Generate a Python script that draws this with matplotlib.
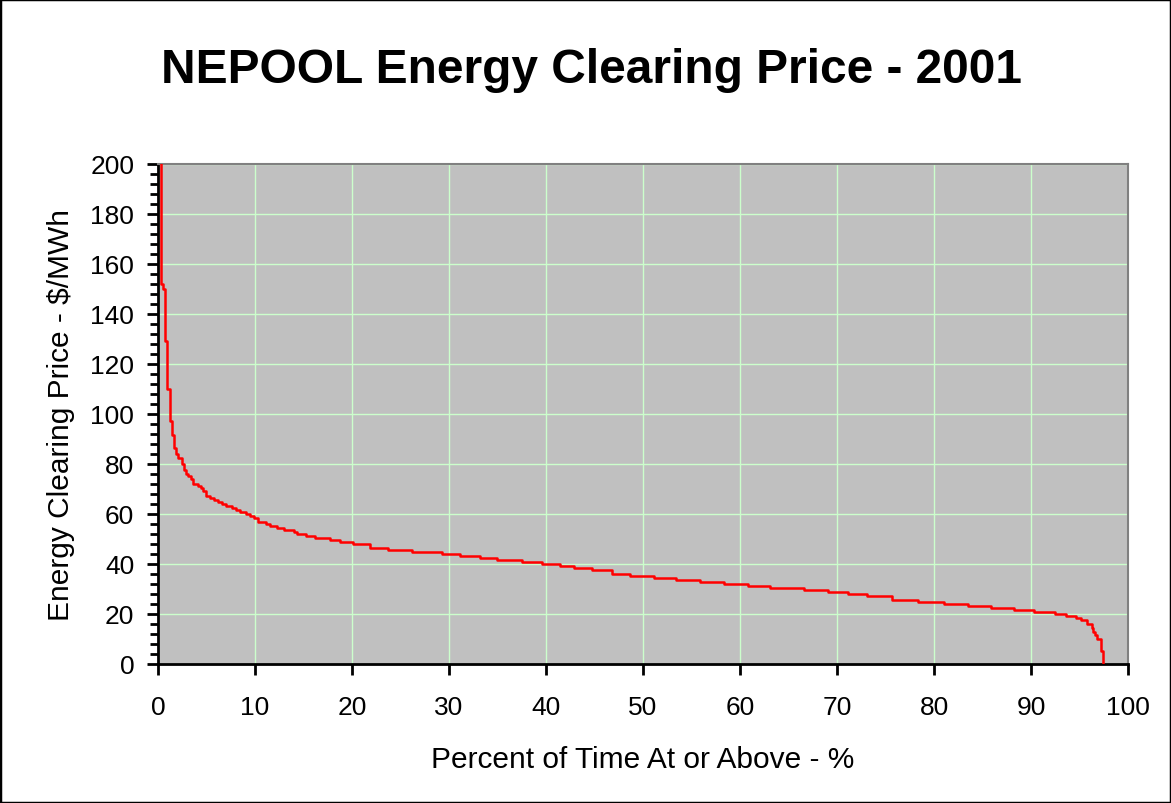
import matplotlib.pyplot as plt
from matplotlib.patches import Rectangle
from matplotlib.ticker import MultipleLocator

# price duration curve
# pct = percent of time where each price level starts
pct = [0.0, 0.30, 0.55, 0.77, 0.98, 1.20, 1.41, 1.65, 1.86, 2.10,
       2.50, 2.68, 2.89, 3.10, 3.37, 3.64, 4.16, 4.40, 4.67, 4.91,
       5.36, 5.77, 6.22, 6.56, 7.00, 7.66, 8.04, 8.45, 9.07, 9.48,
       9.90, 10.30, 11.13, 11.55, 12.30, 12.95, 14.00, 14.36, 15.25, 16.20,
       17.70, 18.76, 20.10, 21.86, 23.70, 26.20, 29.30, 31.10, 33.20, 35.00,
       37.50, 39.60, 41.40, 42.90, 44.74, 46.80, 48.66, 51.10, 53.40, 55.90,
       58.35, 60.86, 63.10, 66.60, 69.07, 71.10, 73.10, 75.70, 78.30, 81.00,
       83.50, 85.90, 88.20, 90.30, 92.50, 93.60, 94.60, 95.20, 95.80, 96.25,
       96.40, 96.60, 96.80, 97.25, 97.45]
price = [400, 152, 150, 129, 110, 97.3, 91.7, 86.4, 84.0, 82.4,
         80.0, 77.7, 76.0, 75.0, 74.0, 72.0, 71.0, 70.3, 69.0, 67.3,
         66.5, 65.7, 64.9, 64.1, 63.3, 62.5, 61.7, 60.9, 60.1, 59.3,
         58.5, 56.9, 56.1, 55.3, 54.5, 53.7, 52.9, 52.1, 51.3, 50.5,
         49.7, 48.9, 48.1, 46.5, 45.7, 44.9, 44.1, 43.3, 42.5, 41.7,
         40.9, 40.1, 39.3, 38.5, 37.7, 36.1, 35.3, 34.5, 33.7, 32.9,
         32.1, 31.3, 30.5, 29.7, 28.9, 28.1, 27.3, 25.7, 24.9, 24.1,
         23.3, 22.5, 21.7, 20.9, 20.1, 19.3, 18.5, 17.7, 16.1, 14.5,
         12.9, 11.6, 9.9, 5.1, 0.0]

plt.rcParams['font.family'] = ['Liberation Sans', 'DejaVu Sans']

fig = plt.figure(figsize=(11.71, 8.04), dpi=100)
ax = fig.add_axes([0.1349, 0.1729, 0.8284, 0.6219])

ax.step(pct, price, where='post', color='#ff0000', linewidth=1.8, zorder=3)

ax.set_xlim(0, 100)
ax.set_ylim(0, 200)
ax.set_facecolor('#c0c0c0')
ax.xaxis.set_major_locator(MultipleLocator(10))
ax.yaxis.set_major_locator(MultipleLocator(20))
ax.yaxis.set_minor_locator(MultipleLocator(4))
ax.grid(True, which='major', color='#ccffcc', linewidth=1.0)
ax.set_axisbelow(True)

ax.tick_params(axis='x', which='major', direction='out', length=8, width=2,
               labelsize=19, pad=14)
ax.tick_params(axis='y', which='major', direction='out', length=8, width=2,
               labelsize=19, pad=9)
ax.tick_params(axis='y', which='minor', direction='out', length=6, width=2)

for s in ['left', 'bottom']:
    ax.spines[s].set_color('black')
    ax.spines[s].set_linewidth(2)
for s in ['top', 'right']:
    ax.spines[s].set_color('#808080')
    ax.spines[s].set_linewidth(1.5)

ax.set_xlabel("Percent of Time At or Above - %", fontsize=21.5, labelpad=19)
ax.set_ylabel("Energy Clearing Price - $/MWh", fontsize=21.5)
ax.yaxis.set_label_coords(-0.086, 0.5)

fig.text(0.505, 0.912, "NEPOOL Energy Clearing Price - 2001", ha='center', va='center',
         fontsize=34.5, fontweight='bold')

# outer border of the chart
fig.add_artist(Rectangle((0, 0), 1, 1, transform=fig.transFigure, fill=False,
                         edgecolor='black', linewidth=2.5))

plt.savefig('out.png', dpi=100)
